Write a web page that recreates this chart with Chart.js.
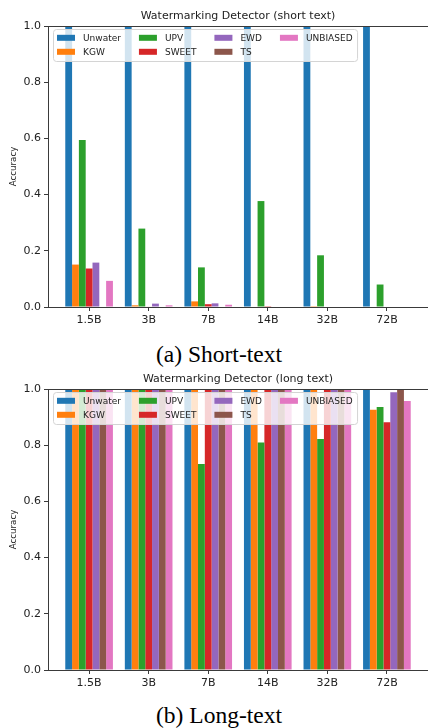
<!DOCTYPE html>
<html>
<head>
<meta charset="utf-8">
<script src="https://cdn.jsdelivr.net/npm/chart.js@4.4.1/dist/chart.umd.min.js"></script>
<style>
  html, body { margin: 0; padding: 0; background: #fff; }
  #page { position: relative; width: 428px; height: 728px; overflow: hidden; }
  canvas { position: absolute; left: 0; }
  .cap { position: absolute; left: 0; width: 418px; padding-left: 10px; text-align: center;
         font-family: "Liberation Serif", "DejaVu Serif", serif; font-size: 23.5px; line-height: 23.5px; color: #000; }
</style>
</head>
<body>
<div id="page">
  <canvas id="c1" width="428" height="335" style="top:0px"></canvas>
  <div class="cap" style="top:343px">(a) Short-text</div>
  <canvas id="c2" width="428" height="335" style="top:363px"></canvas>
  <div class="cap" style="top:704px">(b) Long-text</div>
</div>
<script>
// ---- data ----
const categories = ['1.5B', '3B', '7B', '14B', '32B', '72B'];
const methods = ['Unwater', 'KGW', 'UPV', 'SWEET', 'EWD', 'TS', 'UNBIASED'];
const yTicks = [0.0, 0.2, 0.4, 0.6, 0.8, 1.0];

const shortUnwater  = [1.000, 1.000, 1.000, 1.000, 1.000, 1.000];
const shortKGW      = [0.151, 0.006, 0.020, 0.000, 0.003, 0.000];
const shortUPV      = [0.594, 0.279, 0.141, 0.377, 0.184, 0.080];
const shortSWEET    = [0.137, 0.002, 0.010, 0.003, 0.000, 0.000];
const shortEWD      = [0.158, 0.012, 0.013, 0.000, 0.000, 0.000];
const shortTS       = [0.000, 0.000, 0.000, 0.000, 0.000, 0.000];
const shortUNBIASED = [0.093, 0.006, 0.008, 0.000, 0.000, 0.000];

const longUnwater  = [1.000, 1.000, 1.000, 1.000, 1.000, 1.000];
const longKGW      = [1.000, 1.000, 1.000, 1.000, 1.000, 0.926];
const longUPV      = [1.000, 1.000, 0.733, 0.810, 0.822, 0.936];
const longSWEET    = [1.000, 1.000, 0.996, 1.000, 1.000, 0.882];
const longEWD      = [1.000, 1.000, 1.000, 1.000, 1.000, 0.988];
const longTS       = [1.000, 1.000, 1.000, 1.000, 1.000, 1.000];
const longUNBIASED = [1.000, 1.000, 1.000, 1.000, 1.000, 0.957];

// ---- styles ----
const colors = ['#1f77b4', '#ff7f0e', '#2ca02c', '#d62728', '#9467bd', '#8c564b', '#e377c2'];
const FONT = '"DejaVu Sans", Verdana, sans-serif';
const INK = '#222';
const SPINE = '#3a3a3a';

const framePlugin = {
  id: 'frame',
  afterDatasetsDraw(chart) {
    const { ctx, chartArea: a } = chart;
    ctx.save();
    ctx.strokeStyle = SPINE;
    ctx.lineWidth = 1;
    ctx.beginPath();
    ctx.moveTo(a.left, Math.round(a.top) + 0.5);
    ctx.lineTo(a.right, Math.round(a.top) + 0.5);
    ctx.stroke();
    ctx.restore();
  }
};

const axesTitle = {
  id: 'axesTitle',
  afterDraw(chart, args, opts) {
    const { ctx, chartArea: a } = chart;
    ctx.save();
    ctx.font = '11px ' + FONT;
    ctx.fillStyle = INK;
    ctx.textAlign = 'center';
    ctx.textBaseline = 'middle';
    ctx.fillText(opts.text, (a.left + a.right) / 2, a.top - 10.3);
    ctx.restore();
  }
};

const innerLegend = {
  id: 'innerLegend',
  afterDatasetsDraw(chart) {
    const { ctx, chartArea: a } = chart;
    const ds = chart.data.datasets;
    const rows = 2;
    const cols = Math.ceil(ds.length / rows);
    ctx.save();
    ctx.font = '9px ' + FONT;
    const colX = [];
    let x = a.left + 9;
    for (let c = 0; c < cols; c++) {
      colX.push(x);
      let w = 0;
      for (let r = 0; r < rows; r++) {
        const i = c * rows + r;
        if (i < ds.length) w = Math.max(w, ctx.measureText(ds[i].label).width);
      }
      x += 26 + w + (c < cols - 1 ? 18 : 0);
    }
    const bx = a.left + 5, by = a.top + 3, bw = x + 4.5 - bx, bh = 32;
    ctx.beginPath();
    ctx.roundRect(bx + 0.5, by + 0.5, bw, bh, 3);
    ctx.fillStyle = 'rgba(255,255,255,0.8)';
    ctx.fill();
    ctx.strokeStyle = '#d4d4d4';
    ctx.lineWidth = 1;
    ctx.stroke();
    ctx.textBaseline = 'middle';
    ctx.textAlign = 'left';
    for (let i = 0; i < ds.length; i++) {
      const c = Math.floor(i / rows), r = i % rows;
      const cy = a.top + 11.8 + r * 14;
      ctx.fillStyle = ds[i].backgroundColor;
      ctx.fillRect(colX[c], cy - 3, 18, 6);
      ctx.fillStyle = INK;
      ctx.fillText(ds[i].label, colX[c] + 26, cy + 0.5);
    }
    ctx.restore();
  }
};

function makeChart(id, title, series) {
  const datasets = series.map((vals, k) => ({
    label: methods[k],
    data: vals.map((v, i) => ({ x: i, y: v })),
    backgroundColor: colors[k],
    borderWidth: 0,
    categoryPercentage: 0.8,
    barPercentage: 1.0
  }));
  return new Chart(document.getElementById(id), {
    type: 'bar',
    data: { datasets },
    options: {
      responsive: false,
      animation: false,
      layout: { padding: { left: 9, right: 0, top: 26, bottom: 0 } },
      plugins: {
        legend: { display: false },
        tooltip: { enabled: false },
        title: { display: false },
        axesTitle: { text: title }
      },
      scales: {
        x: {
          type: 'linear',
          min: -0.69,
          max: 5.69,
          offset: false,
          afterBuildTicks(axis) { axis.ticks = categories.map((c, i) => ({ value: i })); },
          afterFit(axis) { axis.height = 28; },
          ticks: {
            autoSkip: false, maxRotation: 0, minRotation: 0,
            color: INK, padding: 3,
            font: { family: FONT, size: 11 },
            callback: (v) => categories[v]
          },
          grid: { display: true, offset: false, drawOnChartArea: false, drawTicks: true, tickLength: 4, tickColor: SPINE },
          border: { display: true, color: SPINE, width: 1 }
        },
        y: {
          min: 0,
          max: 1,
          afterBuildTicks(axis) { axis.ticks = yTicks.map(v => ({ value: v })); },
          afterFit(axis) { axis.width = 39; },
          ticks: {
            color: INK, padding: 3,
            font: { family: FONT, size: 11 },
            callback: (v) => v.toFixed(1)
          },
          title: {
            display: true, text: 'Accuracy', color: INK,
            font: { family: FONT, size: 8.7, lineHeight: 1.2 },
            padding: 0
          },
          grid: { display: true, offset: false, drawOnChartArea: false, drawTicks: true, tickLength: 4, tickColor: SPINE },
          border: { display: true, color: SPINE, width: 1 }
        }
      }
    },
    plugins: [framePlugin, innerLegend, axesTitle]
  });
}

makeChart('c1', 'Watermarking Detector (short text)',
  [shortUnwater, shortKGW, shortUPV, shortSWEET, shortEWD, shortTS, shortUNBIASED]);
makeChart('c2', 'Watermarking Detector (long text)',
  [longUnwater, longKGW, longUPV, longSWEET, longEWD, longTS, longUNBIASED]);
</script>
</body>
</html>
